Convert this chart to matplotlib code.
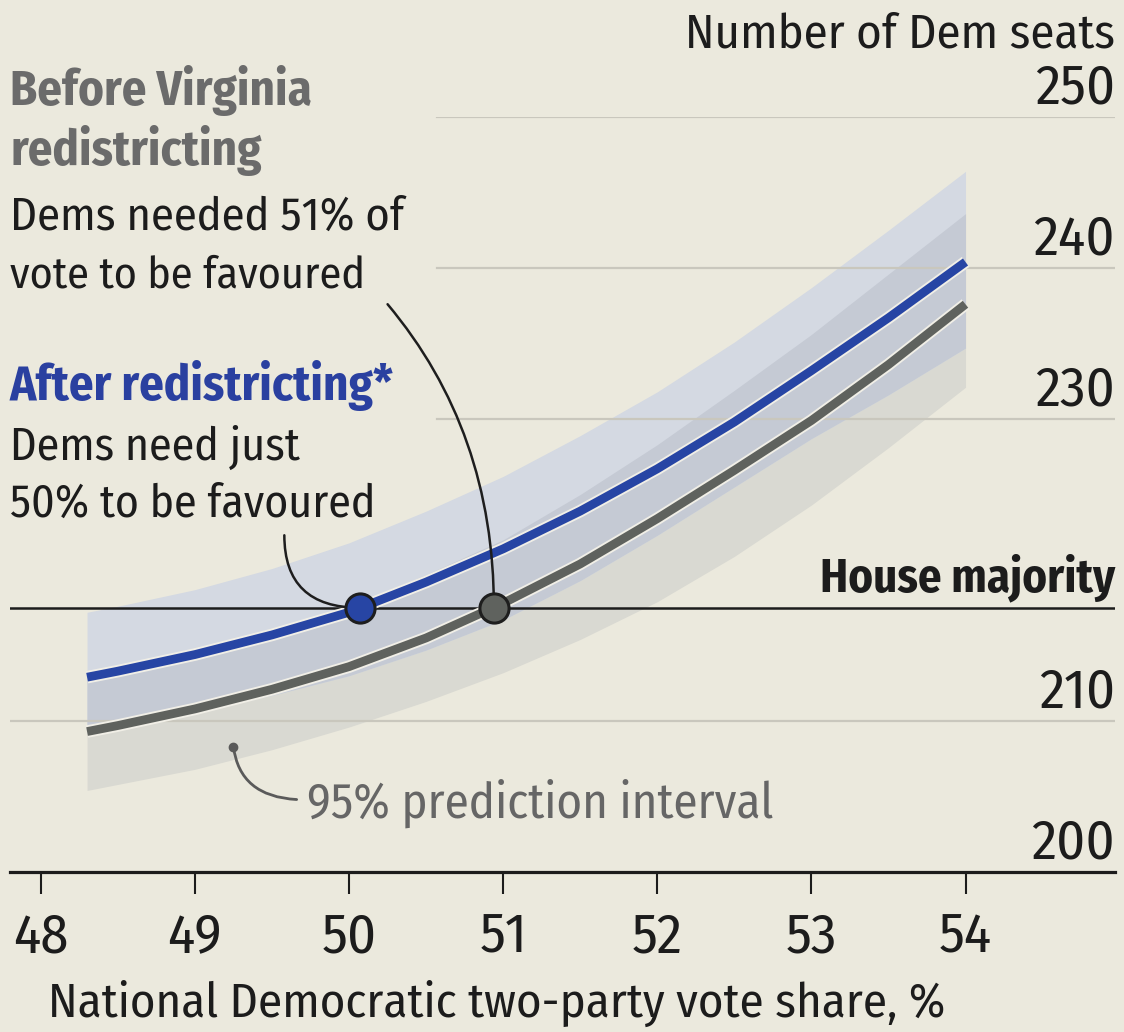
import matplotlib
matplotlib.use("Agg")
import matplotlib.pyplot as plt
import matplotlib.font_manager as fm
import matplotlib.patheffects as pe
from matplotlib.path import Path
from matplotlib.patches import PathPatch

# ---------------- data ----------------
vote_share = [48.3, 48.5, 49.0, 49.5, 50.0, 50.5, 51.0, 51.5, 52.0, 52.5, 53.0, 53.5, 54.0]
seats_after = [212.9, 213.3, 214.4, 215.7, 217.2, 219.2, 221.4, 223.9, 226.7, 229.8, 233.2, 236.7, 240.4]
seats_before = [209.3, 209.7, 210.8, 212.1, 213.6, 215.5, 217.8, 220.4, 223.4, 226.6, 229.9, 233.6, 237.6]
after_hi = [217.2, 217.6, 218.7, 220.1, 221.8, 223.9, 226.2, 228.9, 231.8, 235.1, 238.7, 242.5, 246.4]
after_lo = [209.2, 209.5, 210.6, 211.7, 213.0, 214.7, 216.7, 219.3, 222.3, 225.5, 228.7, 231.6, 234.7]
before_hi = [213.0, 213.4, 214.5, 215.9, 217.6, 219.7, 222.0, 225.0, 228.3, 231.9, 235.6, 239.6, 243.6]
before_lo = [205.4, 205.8, 206.8, 208.1, 209.6, 211.3, 213.2, 215.4, 217.9, 220.9, 224.3, 228.1, 232.1]

majority = 217.5
threshold_after = 50.07
threshold_before = 50.94

x_ticks = [48, 49, 50, 51, 52, 53, 54]
y_ticks = [200, 210, 230, 240, 250]

# ---------------- style ----------------
names = {f.name for f in fm.fontManager.ttflist}
FONT = next((n for n in ["Fira Sans Condensed", "Barlow Semi Condensed", "Asap Condensed",
                         "Encode Sans Semi Condensed", "Liberation Sans"] if n in names), "DejaVu Sans")
plt.rcParams["font.family"] = [FONT, "DejaVu Sans"]

BG = "#ebe9dd"
BLUE = "#2745a4"
GREY = "#5f625e"
BAND_BLUE = "#d4d9e2"
BAND_GREY = "#d9d9d2"
BAND_OVER = "#c5cad4"
GRID = "#c9c7bd"
TXT = "#1c1c1c"

W, H = 1124, 1032
fig = plt.figure(figsize=(W / 100, H / 100), dpi=100, facecolor=BG)
renderer = fig.canvas.get_renderer()

def fit(t, target_w):
    w = t.get_window_extent(renderer).width
    t.set_fontsize(t.get_fontsize() * target_w / w)
    return t

L, R, B, T = 10, 1115, 872, 117  # pixel extents of the axes
ax = fig.add_axes([L / W, 1 - B / H, (R - L) / W, (B - T) / H])
ax.set_facecolor(BG)
ax.set_xlim(47.8, 54.97)
ax.set_ylim(200, 250)

for s in ["top", "right", "left"]:
    ax.spines[s].set_visible(False)
ax.spines["bottom"].set_linewidth(2.3)
ax.spines["bottom"].set_color(TXT)
ax.spines["bottom"].set_zorder(10)
ax.set_yticks([])
ax.set_xticks(x_ticks)
ax.tick_params(axis="x", length=16, width=1.5, color=TXT, pad=12)

# tick label size fitted on the "250" label width
ylabels = []
for yt in y_ticks:
    if yt != y_ticks[0]:
        xmin = 0 if yt == 210 else (437 - L) / (R - L)
        ax.axhline(yt, xmin=xmin, xmax=1, color=GRID, lw=1.6, zorder=2)
    ylabels.append(ax.annotate(str(yt), xy=(1, yt), xycoords=("axes fraction", "data"),
                               xytext=(0, 10), textcoords="offset points",
                               ha="right", va="baseline", fontsize=38, color=TXT))
fit(ylabels[-1], 80)
tick_fs = ylabels[-1].get_fontsize()
for t in ylabels:
    t.set_fontsize(tick_fs)
ax.set_xticklabels([str(t) for t in x_ticks], fontsize=tick_fs, color=TXT)

# bands
ax.fill_between(vote_share, before_lo, before_hi, color=BAND_GREY, lw=0, zorder=1)
ax.fill_between(vote_share, after_lo, after_hi, color=BAND_BLUE, lw=0, zorder=1.1)
ax.fill_between(vote_share, after_lo, before_hi, color=BAND_OVER, lw=0, zorder=1.2)

# majority line
ax.axhline(majority, color=TXT, lw=1.8, zorder=3)
hm = ax.annotate("House majority", xy=(1, majority), xycoords=("axes fraction", "data"),
                 xytext=(0, 12), textcoords="offset points",
                 ha="right", va="baseline", fontsize=36, fontweight="bold", color=TXT)
fit(hm, 295)

# lines
halo = [pe.Stroke(linewidth=9.0, foreground="#f1efe7"), pe.Normal()]
ax.plot(vote_share, seats_before, color=GREY, lw=6.3, solid_capstyle="butt",
        zorder=4, path_effects=halo)
ax.plot(vote_share, seats_after, color=BLUE, lw=6.3, solid_capstyle="butt",
        zorder=4.1, path_effects=halo)

# annotation curves
def curve(p0, p1, p2, color, lw):
    path = Path([p0, p1, p2], [Path.MOVETO, Path.CURVE3, Path.CURVE3])
    ax.add_patch(PathPatch(path, fc="none", ec=color, lw=lw, zorder=6,
                           capstyle="round", clip_on=False))

curve((50.25, 237.6), (threshold_before, 229.2), (threshold_before, majority), "#1e1e1e", 1.8)
curve((49.58, 222.3), (49.58, majority), (threshold_after, majority), "#1e1e1e", 1.8)
curve((49.25, 208.3), (49.29, 205.0), (49.66, 204.8), "#5a5a5a", 2.0)
ax.plot([49.25], [208.3], "o", ms=6, color="#5a5a5a", zorder=6)

# markers
ax.plot([threshold_after], [majority], "o", ms=21, mfc=BLUE, mec="#1e1e1e", mew=2.2, zorder=7)
ax.plot([threshold_before], [majority], "o", ms=21, mfc=GREY, mec="#1e1e1e", mew=2.2, zorder=7)

pi = ax.text(49.73, 203.6, "95% prediction interval", fontsize=38, color="#666666",
             ha="left", va="baseline", zorder=6)
fit(pi, 467)

# texts in figure pixel coords
def ftext(x, y, s, w, **kw):
    t = fig.text(x / W, 1 - y / H, s, va="baseline", fontsize=36, **kw)
    return fit(t, w)

ftext(1115, 48, "Number of Dem seats", 430, ha="right", color=TXT)
ftext(10, 105, "Before Virginia", 303, ha="left", fontweight="bold", color="#6b6b6b")
ftext(10, 165, "redistricting", 252, ha="left", fontweight="bold", color="#6b6b6b")
ftext(10, 230, "Dems needed 51% of", 395, ha="left", color=TXT)
ftext(10, 288, "vote to be favoured", 355, ha="left", color=TXT)
ftext(10, 400, "After redistricting*", 385, ha="left", fontweight="bold", color="#2a40a0")
ftext(10, 460, "Dems need just", 290, ha="left", color=TXT)
ftext(10, 517, "50% to be favoured", 365, ha="left", color=TXT)
ftext(48, 1017, "National Democratic two-party vote share, %", 897, ha="left", color=TXT)

fig.savefig("out.png", dpi=100, facecolor=BG)
